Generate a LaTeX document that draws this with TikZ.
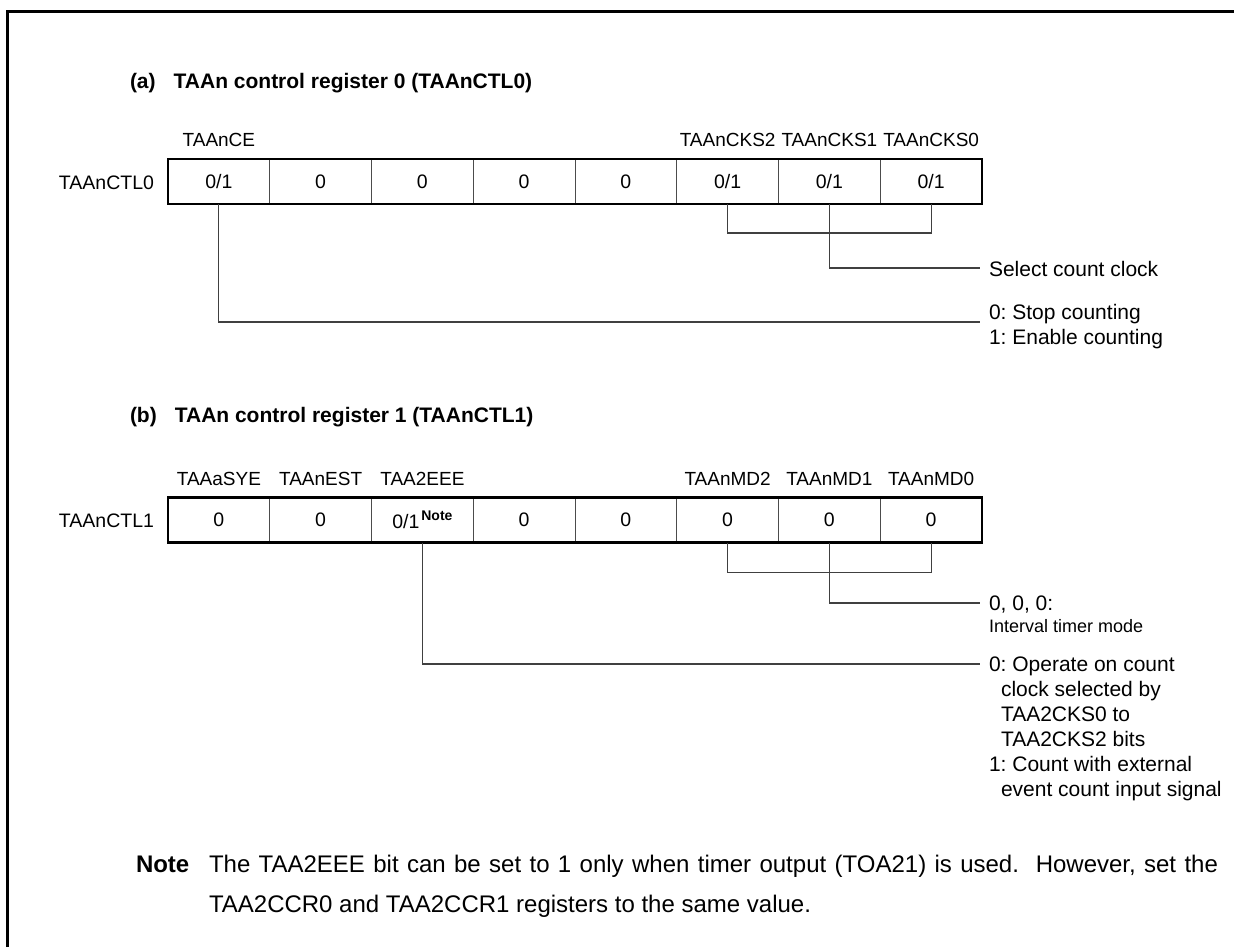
\documentclass[tikz,border=0pt]{standalone}
\usepackage{fontspec}
\setmainfont{Liberation Sans}
\frenchspacing
\begin{document}
\begin{tikzpicture}[x=0.5pt,y=-0.5pt,
  txt/.style={inner sep=0pt, outer sep=0pt, font=\fontsize{10.5}{12.5}\selectfont},
  bitlbl/.style={inner sep=0pt, outer sep=0pt, font=\fontsize{9.5}{11.5}\selectfont},
  small/.style={inner sep=0pt, outer sep=0pt, font=\fontsize{9}{11}\selectfont},
  ttl/.style={inner sep=0pt, outer sep=0pt, font=\fontsize{10.5}{12.5}\selectfont\bfseries},
  notetxt/.style={inner sep=0pt, outer sep=0pt, font=\fontsize{12}{14}\selectfont},
  cell/.style={draw=black!70, line width=0.5pt, minimum width=50.875pt, minimum height=22.5pt, inner sep=0pt, outer sep=0pt, font=\fontsize{9.75}{12}\selectfont},
  conn/.style={draw=black!75, line width=0.55pt},
  reg/.style={line width=1.3pt},
]
\useasboundingbox (0,0) rectangle (1234,947);
% frame
\draw[line width=1.5pt] (7,947) -- (7,11.5) -- (1234,11.5);

% ---------- (a) ----------
\node[ttl, anchor=base west] (ta) at (130,89) {(a)\hspace{9pt}TAAn control register 0 (TAAnCTL0)};
\node[bitlbl, font=\fontsize{9.75}{12}\selectfont, anchor=base east] (na) at (154,189) {TAAnCTL0};
\node[cell] (a1) at (218.875,181.5) {0/1};
\node[cell] (a2) at (320.625,181.5) {0};
\node[cell] (a3) at (422.375,181.5) {0};
\node[cell] (a4) at (524.125,181.5) {0};
\node[cell] (a5) at (625.875,181.5) {0};
\node[cell] (a6) at (727.625,181.5) {0/1};
\node[cell] (a7) at (829.375,181.5) {0/1};
\node[cell] (a8) at (931.125,181.5) {0/1};
\draw[reg] (a1.north west) rectangle (a8.south east);
\node[bitlbl, anchor=base] (la1) at (218.875,146) {TAAnCE};
\node[bitlbl, anchor=base] (la6) at (727.625,146) {TAAnCKS2};
\node[bitlbl, anchor=base] (la7) at (829.375,146) {TAAnCKS1};
\node[bitlbl, anchor=base] (la8) at (931.125,146) {TAAnCKS0};

\draw[conn] (a6.south) -- ++(0,29) -| (a8.south);
\coordinate (ea1) at (980,268);
\draw[conn] (a7.south) |- (ea1);
\node[txt, anchor=base west] (sa1) at (989,276) {Select count clock};
\coordinate (ea2) at (980,322);
\draw[conn] (a1.south) |- (ea2);
\node[txt, anchor=base west] (sa2) at (989,319) {0: Stop counting};
\node[txt, anchor=base west] (sa3) at (989,344) {1: Enable counting};

% ---------- (b) ----------
\node[ttl, anchor=base west] (tb) at (130,422) {(b)\hspace{9pt}TAAn control register 1 (TAAnCTL1)};
\node[bitlbl, font=\fontsize{9.75}{12}\selectfont, anchor=base east] (nb) at (154,527) {TAAnCTL1};
\node[cell] (b1) at (218.875,520) {0};
\node[cell] (b2) at (320.625,520) {0};
\node[cell] (b3) at (422.375,520) {0/1\hspace{1pt}\raisebox{4pt}{\fontsize{7}{8}\selectfont\bfseries Note}};
\node[cell] (b4) at (524.125,520) {0};
\node[cell] (b5) at (625.875,520) {0};
\node[cell] (b6) at (727.625,520) {0};
\node[cell] (b7) at (829.375,520) {0};
\node[cell] (b8) at (931.125,520) {0};
\draw[reg] (b1.north west) rectangle (b8.south east);
\node[bitlbl, anchor=base] (lb1) at (218.875,485) {TAAaSYE};
\node[bitlbl, anchor=base] (lb2) at (320.625,485) {TAAnEST};
\node[bitlbl, anchor=base] (lb3) at (422.375,485) {TAA2EEE};
\node[bitlbl, anchor=base] (lb6) at (727.625,485) {TAAnMD2};
\node[bitlbl, anchor=base] (lb7) at (829.375,485) {TAAnMD1};
\node[bitlbl, anchor=base] (lb8) at (931.125,485) {TAAnMD0};

\draw[conn] (b6.south) -- ++(0,30) -| (b8.south);
\coordinate (eb1) at (980,603);
\draw[conn] (b7.south) |- (eb1);
\node[txt, anchor=base west] (sb1) at (989,610) {0, 0, 0:};
\node[small, anchor=base west] (sb2) at (989,632) {Interval timer mode};
\coordinate (eb2) at (980,664);
\draw[conn] (b3.south) |- (eb2);
\node[txt, anchor=base west] (sb3) at (989,671) {0: Operate on count};
\node[txt, anchor=base west] (sb4) at (1001,696) {clock selected by};
\node[txt, anchor=base west] (sb5) at (1001,721) {TAA2CKS0 to};
\node[txt, anchor=base west] (sb6) at (1001,746) {TAA2CKS2 bits};
\node[txt, anchor=base west] (sb7) at (989,771) {1: Count with external};
\node[txt, anchor=base west] (sb8) at (1001,796) {event count input signal};

% ---------- Note ----------
\node[notetxt, font=\fontsize{12}{14}\selectfont\bfseries, anchor=base west] (nt) at (136,872) {Note};
\node[notetxt, anchor=base west] (n1) at (209,872) {\makebox[504.5pt][s]{The TAA2EEE bit can be set to 1 only when timer output (TOA21) is used.\ \ However, set the}};
\node[notetxt, anchor=base west] (n2) at (209,912) {TAA2CCR0 and TAA2CCR1 registers to the same value.};
\end{tikzpicture}
\end{document}
